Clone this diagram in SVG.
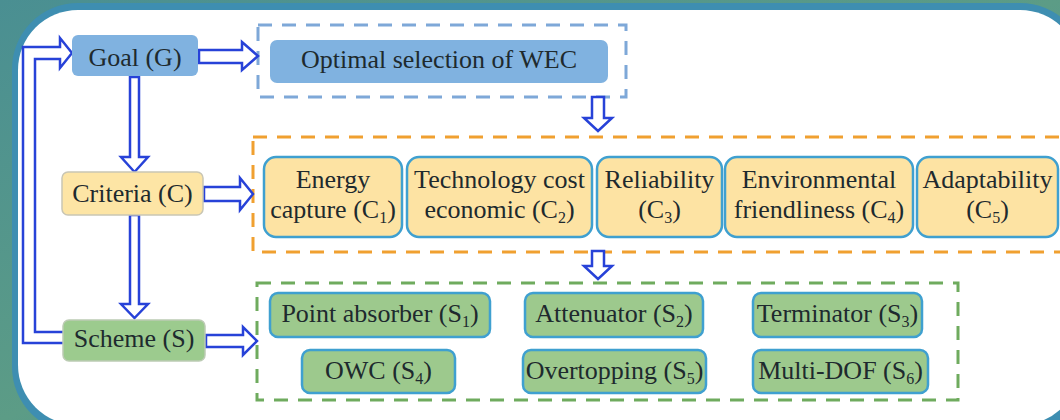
<svg xmlns="http://www.w3.org/2000/svg" width="1060" height="420" viewBox="0 0 1060 420">
<defs>
<linearGradient id="bg" x1="0" y1="0" x2="1" y2="1">
<stop offset="0" stop-color="#4a8f92"/>
<stop offset="0.5" stop-color="#5c9c86"/>
<stop offset="1" stop-color="#3a88a6"/>
</linearGradient>
<style>
text{font-family:"Liberation Serif","Times New Roman",serif;font-size:26px;fill:#1e2a2e;text-anchor:middle}
.sub{font-size:16px}
.arr{fill:#fff;stroke:#2742d8;stroke-width:2.5;stroke-linejoin:miter}
.blue{fill:#80b2e0}
.crit{fill:#fde3a3;stroke:#3fa0d0;stroke-width:2.5}
.sch{fill:#9dc98d;stroke:#3fa0d0;stroke-width:2.5}
.dash{fill:none;stroke-width:3;stroke-dasharray:14 10}
</style>
</defs>
<rect x="0" y="0" width="1060" height="420" fill="url(#bg)"/>
<rect x="12" y="3" width="1074" height="430" rx="66" fill="#3e8eb1"/>
<rect x="18" y="10" width="1062" height="415" rx="60" fill="#ffffff"/>

<g id="groups">
<rect x="258" y="25" width="368" height="72" class="dash" stroke="#7ea8d8" stroke-width="2.5"/>
<rect x="253" y="137" width="830" height="115" class="dash" stroke="#f0a030"/>
<rect x="257" y="283" width="701" height="117" class="dash" stroke="#6fab5e"/>
</g>

<g id="connectors">
<path class="arr" d="M199,50 L242,50 L242,42 L258,56 L242,70 L242,63 L199,63 Z"/>
<path class="arr" d="M130,77 L139,77 L139,157 L148,157 L134.5,172 L121,157 L130,157 Z"/>
<path class="arr" d="M204,187 L240,187 L240,178 L253,194 L240,210 L240,201 L204,201 Z"/>
<path class="arr" d="M130,215 L139,215 L139,304 L148,304 L134.5,318 L121,304 L130,304 Z"/>
<path class="arr" d="M206,335 L243,335 L243,327 L257,341 L243,355 L243,347 L206,347 Z"/>
<path class="arr" d="M592,97 L604,97 L604,118 L612,118 L598,131 L584,118 L592,118 Z"/>
<path class="arr" d="M592,251 L604,251 L604,266 L612,266 L598,279 L584,266 L592,266 Z"/>
<path class="arr" d="M63,343 L23,343 L23,47 L60,47 L60,38 L72,53 L60,68 L60,59 L35,59 L35,332 L63,332"/>
</g>

<g id="goal"><rect x="72" y="35" width="126" height="41" rx="6" class="blue"/><text x="135" y="66">Goal (G)</text></g>
<g id="optimal"><rect x="270" y="40" width="338" height="43" rx="7" class="blue"/><text x="439" y="68">Optimal selection of WEC</text></g>

<g id="criteria"><rect x="62" y="172" width="141" height="43" rx="6" fill="#fde5a5" stroke="#c9c6b4" stroke-width="1.5"/><text x="132.5" y="202">Criteria (C)</text></g>
<g id="c1"><rect x="264" y="157" width="138" height="80" rx="12" class="crit"/><text x="333" y="188">Energy</text><text x="333" y="218">capture (C<tspan class="sub" dy="5">1</tspan><tspan dy="-5">)</tspan></text></g>
<g id="c2"><rect x="407" y="157" width="185" height="80" rx="12" class="crit"/><text x="499.5" y="188">Technology cost</text><text x="499.5" y="218">economic (C<tspan class="sub" dy="5">2</tspan><tspan dy="-5">)</tspan></text></g>
<g id="c3"><rect x="597" y="157" width="125" height="80" rx="12" class="crit"/><text x="659.5" y="188">Reliability</text><text x="659.5" y="218">(C<tspan class="sub" dy="5">3</tspan><tspan dy="-5">)</tspan></text></g>
<g id="c4"><rect x="725" y="157" width="188" height="80" rx="12" class="crit"/><text x="819" y="188">Environmental</text><text x="819" y="218">friendliness (C<tspan class="sub" dy="5">4</tspan><tspan dy="-5">)</tspan></text></g>
<g id="c5"><rect x="917" y="157" width="141" height="80" rx="12" class="crit"/><text x="987.5" y="188">Adaptability</text><text x="987.5" y="218">(C<tspan class="sub" dy="5">5</tspan><tspan dy="-5">)</tspan></text></g>

<g id="scheme"><rect x="63" y="320" width="142" height="41" rx="6" fill="#9ccb8e" stroke="#bccbb4" stroke-width="1.5"/><text x="134" y="347">Scheme (S)</text></g>
<g id="s1"><rect x="270" y="293" width="220" height="44" rx="8" class="sch"/><text x="380" y="322">Point absorber (S<tspan class="sub" dy="5">1</tspan><tspan dy="-5">)</tspan></text></g>
<g id="s2"><rect x="525" y="293" width="178" height="44" rx="8" class="sch"/><text x="614" y="322">Attenuator (S<tspan class="sub" dy="5">2</tspan><tspan dy="-5">)</tspan></text></g>
<g id="s3"><rect x="753" y="293" width="169" height="44" rx="8" class="sch"/><text x="837.5" y="322">Terminator (S<tspan class="sub" dy="5">3</tspan><tspan dy="-5">)</tspan></text></g>
<g id="s4"><rect x="302" y="350" width="153" height="43" rx="8" class="sch"/><text x="378.5" y="379">OWC (S<tspan class="sub" dy="5">4</tspan><tspan dy="-5">)</tspan></text></g>
<g id="s5"><rect x="523" y="350" width="183" height="43" rx="8" class="sch"/><text x="614.5" y="379">Overtopping (S<tspan class="sub" dy="5">5</tspan><tspan dy="-5">)</tspan></text></g>
<g id="s6"><rect x="753" y="350" width="175" height="43" rx="8" class="sch"/><text x="840.5" y="379">Multi-DOF (S<tspan class="sub" dy="5">6</tspan><tspan dy="-5">)</tspan></text></g>
</svg>
